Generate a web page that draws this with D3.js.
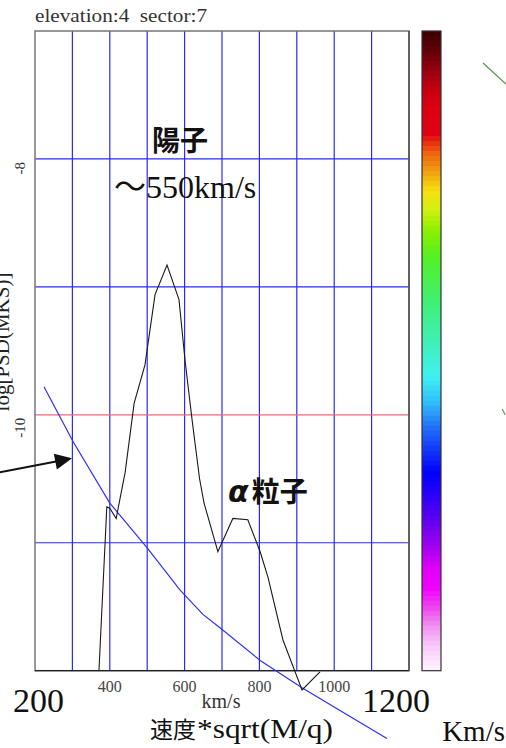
<!DOCTYPE html>
<html>
<head>
<meta charset="utf-8">
<script src="https://cdn.jsdelivr.net/npm/d3@7"></script>
<style>
  html, body { margin: 0; padding: 0; background: #fff; }
  svg { display: block; }
</style>
</head>
<body>
<svg id="chart" width="506" height="748"></svg>
<script>
// Velocity (km/s, scaled by sqrt(M/q)) and log PSD of the measured spectrum
const speed = [371, 392, 400, 417, 441, 465, 494, 521, 553, 585, 601, 620, 640, 652, 689, 729, 769, 802, 823, 863, 914, 962];
const logPsd = [-12.0, -10.72, -10.73, -10.81, -10.45, -9.91, -9.61, -9.06, -8.83, -9.10, -9.57, -10.04, -10.50, -10.69, -11.07, -10.81, -10.82, -11.07, -11.27, -11.76, -12.15, -12.01];

// One-count level curve
const levelSpeed = [224, 302, 400, 500, 588, 649, 697, 802, 917, 1141];
const levelPsd = [-9.78, -10.21, -10.69, -11.04, -11.37, -11.56, -11.67, -11.92, -12.14, -12.53];

// Axes
const xDomain = [200, 1200];
const yDomain = [-12, -7];
const xGrid = [300, 400, 500, 600, 700, 800, 900, 1000, 1100];
const yGrid = [-8, -9, -10, -11];
const xTickLabels = [400, 600, 800, 1000];
const yTickLabels = [-8, -10];

// Colour bar stops (top to bottom)
const barStops = ["#3a0000", "#600008", "#940010", "#c40010", "#dc0012", "#e00014", "#e83010", "#f06010", "#f0a010", "#f8e010", "#d0f010", "#90f000", "#58f020", "#40f070", "#40f0b0", "#40f0f0", "#30c0f8", "#2070f8", "#1030f8", "#0000ff", "#3000f8", "#6800f0", "#a800f0", "#e000f8", "#f000ff", "#f040f0", "#f090f0", "#f8c8f8", "#fff4ff"];
const barOffsets = [0.0, 0.03, 0.06, 0.09, 0.12, 0.16, 0.175, 0.19, 0.22, 0.25, 0.28, 0.31, 0.35, 0.42, 0.48, 0.54, 0.58, 0.62, 0.66, 0.69, 0.73, 0.77, 0.81, 0.84, 0.87, 0.9, 0.93, 0.96, 1.0];

const svg = d3.select("#chart");
const x = d3.scaleLinear().domain(xDomain).range([35, 409]);
const y = d3.scaleLinear().domain(yDomain).range([670.7, 31]);

const serif = "'Liberation Serif', 'Times New Roman', 'Noto Sans CJK JP', serif";
const gothic = "'Noto Sans CJK JP', sans-serif";

// Title
svg.append("text")
  .attr("x", 35).attr("y", 22)
  .attr("font-family", serif).attr("font-size", 18).attr("fill", "#333")
  .attr("textLength", 172).attr("lengthAdjust", "spacingAndGlyphs")
  .style("white-space", "pre")
  .text("elevation:4  sector:7");

// Grid
svg.append("g").selectAll("line").data(xGrid).join("line")
  .attr("x1", d => x(d)).attr("x2", d => x(d))
  .attr("y1", y(yDomain[0])).attr("y2", y(yDomain[1]))
  .attr("stroke", "#2a2aff").attr("stroke-width", 1.2);

svg.append("g").selectAll("line").data(yGrid).join("line")
  .attr("x1", x(xDomain[0])).attr("x2", x(xDomain[1]))
  .attr("y1", d => y(d)).attr("y2", d => y(d))
  .attr("stroke", d => d === -10 ? "#e86878" : "#2a2aff").attr("stroke-width", 1.2);

// Frame
svg.append("rect")
  .attr("x", x(xDomain[0])).attr("y", y(yDomain[1]))
  .attr("width", x(xDomain[1]) - x(xDomain[0]))
  .attr("height", y(yDomain[0]) - y(yDomain[1]))
  .attr("fill", "none").attr("stroke", "#777").attr("stroke-width", 1.5);
svg.append("line")
  .attr("x1", x(xDomain[0])).attr("x2", x(xDomain[1]))
  .attr("y1", y(yDomain[0])).attr("y2", y(yDomain[0]))
  .attr("stroke", "#222").attr("stroke-width", 1.3);
svg.append("line")
  .attr("x1", x(xDomain[1])).attr("x2", x(xDomain[1]))
  .attr("y1", y(yDomain[0])).attr("y2", y(yDomain[1]))
  .attr("stroke", "#444").attr("stroke-width", 1.3);

// Curves
const line = d3.line().x(d => x(d[0])).y(d => y(d[1]));
svg.append("path")
  .attr("d", line(levelSpeed.map((v, i) => [v, levelPsd[i]])))
  .attr("fill", "none").attr("stroke", "#2e2eff").attr("stroke-width", 1.2);
svg.append("path")
  .attr("d", line(speed.map((v, i) => [v, logPsd[i]])))
  .attr("fill", "none").attr("stroke", "#1a1a1a").attr("stroke-width", 1.1);

// X tick labels
svg.append("g").selectAll("text").data(xTickLabels).join("text")
  .attr("x", d => x(d)).attr("y", 692)
  .attr("text-anchor", "middle")
  .attr("font-family", serif).attr("font-size", 16).attr("fill", "#444")
  .text(d => d);
svg.append("text")
  .attr("x", 221).attr("y", 708).attr("text-anchor", "middle")
  .attr("font-family", serif).attr("font-size", 20).attr("fill", "#333")
  .text("km/s");

// Y tick labels (rotated)
svg.append("g").selectAll("text").data(yTickLabels).join("text")
  .attr("transform", d => `translate(25,${y(d) + 3}) rotate(-90)`)
  .attr("text-anchor", "end")
  .attr("font-family", serif).attr("font-size", 15).attr("fill", "#333")
  .text(d => d);
svg.append("text")
  .attr("transform", "translate(9,342) rotate(-90)")
  .attr("text-anchor", "middle")
  .attr("font-family", serif).attr("font-size", 21).attr("fill", "#222")
  .text("log[PSD(MKS)]");

// Range end labels and units
svg.append("text")
  .attr("x", x(xDomain[0]) - 22).attr("y", 712)
  .attr("font-family", serif).attr("font-size", 34).attr("fill", "#111")
  .text("200");
svg.append("text")
  .attr("x", x(xDomain[1]) + 21).attr("y", 712).attr("text-anchor", "end")
  .attr("font-family", serif).attr("font-size", 34).attr("fill", "#111")
  .text("1200");
svg.append("text")
  .attr("x", 150).attr("y", 738)
  .attr("font-family", gothic).attr("font-size", 23).attr("fill", "#111")
  .text("速度");
svg.append("text")
  .attr("x", 197).attr("y", 738)
  .attr("font-family", serif).attr("font-size", 27).attr("fill", "#111")
  .attr("textLength", 136).attr("lengthAdjust", "spacingAndGlyphs")
  .text("*sqrt(M/q)");
svg.append("text")
  .attr("x", 505).attr("y", 741).attr("text-anchor", "end")
  .attr("font-family", serif).attr("font-size", 29).attr("fill", "#111")
  .text("Km/s");

// Annotations
svg.append("text")
  .attr("x", 180).attr("y", 151).attr("text-anchor", "middle")
  .attr("font-family", gothic).attr("font-weight", "bold").attr("font-size", 28).attr("fill", "#111")
  .text("陽子");
svg.append("text")
  .attr("x", 114).attr("y", 198)
  .attr("font-family", serif).attr("font-size", 32).attr("fill", "#111")
  .text("～550km/s");
const alpha = svg.append("text")
  .attr("x", 228).attr("y", 502)
  .attr("font-weight", "bold").attr("fill", "#111");
alpha.append("tspan")
  .attr("font-family", "'DejaVu Sans', sans-serif").attr("font-style", "italic").attr("font-size", 30)
  .text("α");
alpha.append("tspan")
  .attr("dx", 3)
  .attr("font-family", gothic).attr("font-size", 28)
  .text("粒子");

// Arrow pointing at the level curve
const arrowFrom = [106, -10.45], arrowTo = [299, -10.34];
const ax0 = x(arrowFrom[0]), ay0 = y(arrowFrom[1]);
const ax1 = x(arrowTo[0]), ay1 = y(arrowTo[1]);
const ang = Math.atan2(ay1 - ay0, ax1 - ax0);
const headLen = 17, headHalf = 8;
const bx = ax1 - headLen * Math.cos(ang), by = ay1 - headLen * Math.sin(ang);
svg.append("line")
  .attr("x1", ax0).attr("y1", ay0).attr("x2", bx + 2 * Math.cos(ang)).attr("y2", by + 2 * Math.sin(ang))
  .attr("stroke", "#111").attr("stroke-width", 2);
svg.append("polygon")
  .attr("points", [
    [ax1, ay1],
    [bx - headHalf * Math.sin(ang), by + headHalf * Math.cos(ang)],
    [bx + headHalf * Math.sin(ang), by - headHalf * Math.cos(ang)]
  ].map(p => p.join(",")).join(" "))
  .attr("fill", "#111");

// Colour bar
const bar = { x: 422, w: 19 };
const cScale = d3.scaleLinear().domain(barOffsets).range(barStops).interpolate(d3.interpolateRgb);
const steps = 128;
const barY = d3.scaleLinear().domain([0, 1]).range([y(yDomain[1]), y(yDomain[0])]);
svg.append("g").selectAll("rect").data(d3.range(steps)).join("rect")
  .attr("x", bar.x).attr("width", bar.w)
  .attr("y", i => barY(i / steps))
  .attr("height", barY(1 / steps) - barY(0) + 0.6)
  .attr("fill", i => cScale((i + 0.5) / steps));
svg.append("rect")
  .attr("x", bar.x).attr("y", barY(0)).attr("width", bar.w).attr("height", barY(1) - barY(0))
  .attr("fill", "none").attr("stroke", "#333").attr("stroke-width", 1.2);

// Neighbouring panel line fragments
const fragments = [
  [[1398, -7.25], [1465, -7.43]],
  [[1449, -9.955], [1457, -10.0]]
];
svg.append("g").selectAll("path").data(fragments).join("path")
  .attr("d", d => line(d))
  .attr("fill", "none").attr("stroke", "#5a9a4a").attr("stroke-width", 1.2);
</script>
</body>
</html>
